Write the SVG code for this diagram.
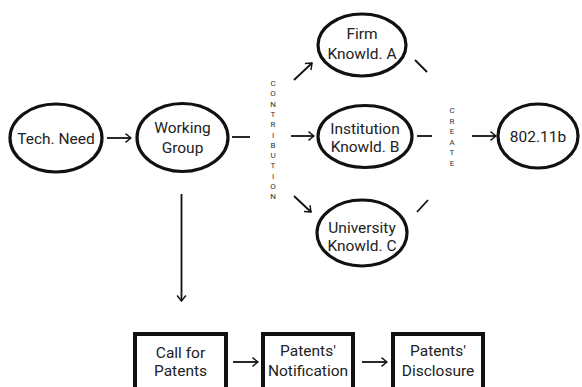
<svg xmlns="http://www.w3.org/2000/svg" width="582" height="387" viewBox="0 0 582 387">
<defs>
<marker id="ah" viewBox="0 0 10 10" refX="9" refY="5" markerWidth="11" markerHeight="11" orient="auto" markerUnits="userSpaceOnUse">
<path d="M4,1 L9,5 L4,9" fill="none" stroke="#111" stroke-width="1.3"/>
</marker>
<style>
.n{fill:#fff;stroke:#111;stroke-width:3.2}
.b{fill:#fff;stroke:#111;stroke-width:4}
.t{font-family:Roboto,"Liberation Sans",sans-serif;font-size:15.5px;fill:#222;text-anchor:middle}
.v{font-family:Roboto,"Liberation Sans",sans-serif;font-size:8px;fill:#333;text-anchor:middle}
.c{stroke:#111;stroke-width:1.8;fill:none}
.a{stroke:#111;stroke-width:1.8;fill:none;marker-end:url(#ah)}
</style>
</defs>
<rect width="582" height="387" fill="#fff"/>
<g id="connectors">
<line class="a" x1="107" y1="138" x2="131" y2="138"/>
<line class="c" x1="232" y1="137" x2="250" y2="137"/>
<line class="a" x1="294" y1="80" x2="312" y2="63"/>
<line class="a" x1="291" y1="136" x2="314" y2="136"/>
<line class="a" x1="294" y1="196" x2="311" y2="212"/>
<line class="c" x1="415" y1="60" x2="427" y2="72"/>
<line class="c" x1="417" y1="136" x2="432" y2="136"/>
<line class="c" x1="417" y1="212" x2="428" y2="200"/>
<line class="a" x1="472" y1="136" x2="496" y2="136"/>
<line class="a" x1="181.5" y1="194" x2="181.5" y2="301"/>
<line class="a" x1="233" y1="362" x2="258" y2="362"/>
<line class="a" x1="362" y1="362" x2="387" y2="362"/>
</g>
<g id="label-contribution">
<text class="v" x="273" y="86">C</text>
<text class="v" x="273" y="96.3">O</text>
<text class="v" x="273" y="106.6">N</text>
<text class="v" x="273" y="116.9">T</text>
<text class="v" x="273" y="127.2">R</text>
<text class="v" x="273" y="137.5">I</text>
<text class="v" x="273" y="147.8">B</text>
<text class="v" x="273" y="158.1">U</text>
<text class="v" x="273" y="168.4">T</text>
<text class="v" x="273" y="178.7">I</text>
<text class="v" x="273" y="189">O</text>
<text class="v" x="273" y="199.3">N</text>
</g>
<g id="label-create">
<text class="v" x="452" y="113">C</text>
<text class="v" x="452" y="123.6">R</text>
<text class="v" x="452" y="134.2">E</text>
<text class="v" x="452" y="144.8">A</text>
<text class="v" x="452" y="155.4">T</text>
<text class="v" x="452" y="166">E</text>
</g>
<g id="tech-need">
<ellipse class="n" cx="56" cy="138" rx="46" ry="34"/>
<text class="t" x="56" y="143.5">Tech. Need</text>
</g>
<g id="working-group">
<ellipse class="n" cx="182.5" cy="137.5" rx="45.5" ry="34"/>
<text class="t" x="182.5" y="132.5">Working</text>
<text class="t" x="182.5" y="152.5">Group</text>
</g>
<g id="firm">
<ellipse class="n" cx="362" cy="45" rx="44" ry="31"/>
<text class="t" x="362" y="38.5">Firm</text>
<text class="t" x="362" y="58.5">Knowld. A</text>
</g>
<g id="institution">
<ellipse class="n" cx="365" cy="136.5" rx="47" ry="31"/>
<text class="t" x="365" y="133.5">Institution</text>
<text class="t" x="365" y="152">Knowld. B</text>
</g>
<g id="university">
<ellipse class="n" cx="362" cy="233" rx="45" ry="33"/>
<text class="t" x="362" y="232.5">University</text>
<text class="t" x="362" y="251">Knowld. C</text>
</g>
<g id="std">
<ellipse class="n" cx="538" cy="136" rx="40" ry="32"/>
<text class="t" x="538" y="141.5">802.11b</text>
</g>
<g id="call">
<rect class="b" x="135" y="334" width="91" height="60"/>
<text class="t" x="180.5" y="357.5">Call for</text>
<text class="t" x="180.5" y="375.5">Patents</text>
</g>
<g id="notification">
<rect class="b" x="263" y="334" width="90" height="60"/>
<text class="t" x="308" y="355.5">Patents'</text>
<text class="t" x="308" y="375.5">Notification</text>
</g>
<g id="disclosure">
<rect class="b" x="393" y="334" width="90" height="60"/>
<text class="t" x="438" y="355.5">Patents'</text>
<text class="t" x="438" y="375.5">Disclosure</text>
</g>
</svg>
